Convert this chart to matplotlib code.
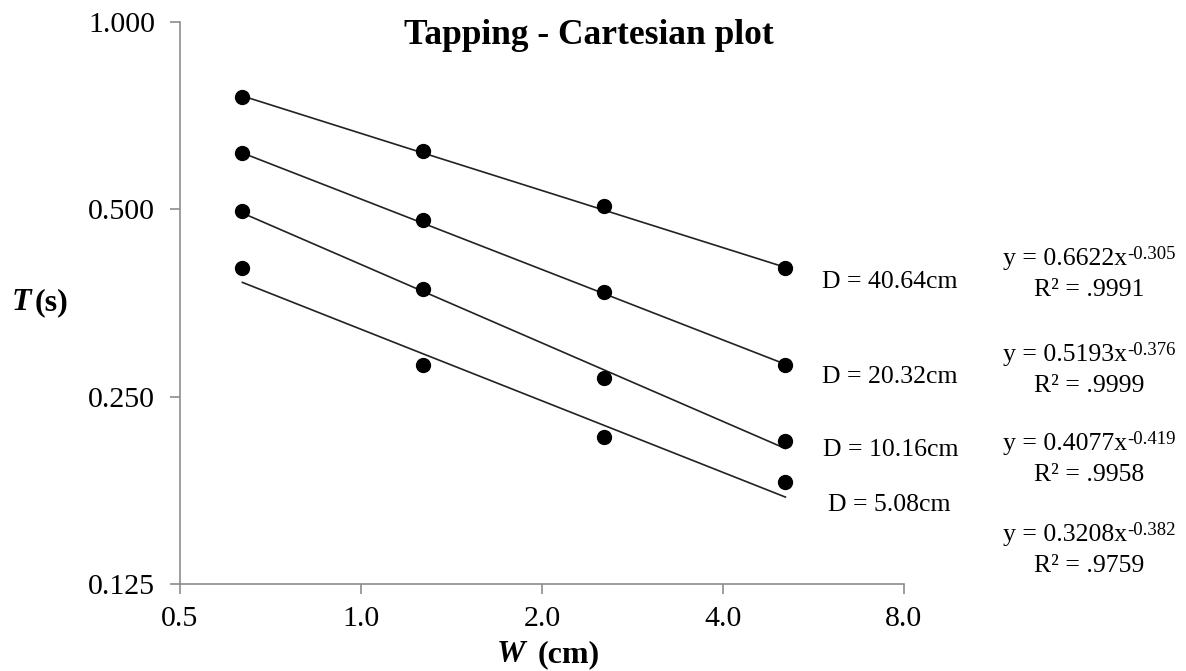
import numpy as np
import matplotlib
matplotlib.use('Agg')
import matplotlib.pyplot as plt

#%% 데이터
W = [0.635, 1.27, 2.54, 5.08]  # target width (cm)
D_labels = ['D = 40.64cm', 'D = 20.32cm', 'D = 10.16cm', 'D = 5.08cm']
T_40 = [0.757, 0.620, 0.506, 0.402]
T_20 = [0.615, 0.480, 0.368, 0.281]
T_10 = [0.497, 0.372, 0.268, 0.212]
T_05 = [0.402, 0.281, 0.215, 0.182]
T_all = [T_40, T_20, T_10, T_05]

# power trendline y = a x^b
coef_a = [0.6622, 0.5193, 0.4077, 0.3208]
coef_b = [-0.305, -0.376, -0.419, -0.382]
r2_text = ['.9991', '.9999', '.9958', '.9759']

x_ticks = [0.5, 1.0, 2.0, 4.0, 8.0]
x_ticklabels = ['0.5', '1.0', '2.0', '4.0', '8.0']
y_ticks = [0.125, 0.25, 0.5, 1.0]
y_ticklabels = ['0.125', '0.250', '0.500', '1.000']

#%% 그래프
plt.rcParams['font.family'] = ['Liberation Serif', 'DejaVu Serif']

W_px, H_px = 1186, 671
fig = plt.figure(figsize=(W_px / 100, H_px / 100), dpi=100)
ax = fig.add_axes([180 / W_px, 1 - 584 / H_px, (904 - 180) / W_px, (584 - 22) / H_px])

ax.set_xscale('log', base=2)
ax.set_yscale('log', base=2)
ax.set_xlim(0.5, 8.0)
ax.set_ylim(0.125, 1.0)

for T, a, b in zip(T_all, coef_a, coef_b):
    xs = np.array([W[0], W[-1]])
    ax.plot(xs, a * xs ** b, color='#222222', lw=1.2, zorder=2)
    ax.plot(W, T, 'o', color='k', ms=10, zorder=3)

ax.set_xticks(x_ticks)
ax.set_xticklabels(x_ticklabels)
ax.set_yticks(y_ticks)
ax.set_yticklabels(y_ticklabels)
ax.minorticks_off()

for s in ['top', 'right']:
    ax.spines[s].set_visible(False)
for s in ['left', 'bottom']:
    ax.spines[s].set_color('#8c8c8c')
    ax.spines[s].set_linewidth(1.2)
ax.tick_params(axis='both', direction='out', length=7, width=1.2, color='#8c8c8c',
               labelsize=21.5, labelcolor='k')
ax.tick_params(axis='y', pad=11)
ax.tick_params(axis='x', pad=9)


def ftext(x, y, s, **kw):
    fig.text(x / W_px, 1 - y / H_px, s, **kw)


ftext(589, 35, 'Tapping - Cartesian plot', fontsize=25.5, fontweight='bold', ha='center', va='center')

# 축 제목
ftext(12, 303, 'T', fontsize=23, fontweight='bold', fontstyle='italic', ha='left', va='center')
ftext(35, 303, '(s)', fontsize=23, fontweight='bold', ha='left', va='center')
ftext(497, 655, 'W', fontsize=23, fontweight='bold', fontstyle='italic', ha='left', va='center')
ftext(538, 655, '(cm)', fontsize=23, fontweight='bold', ha='left', va='center')

# 거리 라벨
d_pos = [(890, 282), (890, 377), (891, 450), (889, 505)]
for (px, py), lab in zip(d_pos, D_labels):
    ftext(px, py, lab, fontsize=18.5, ha='center', va='center')

# 회귀식 (baseline 기준)
eq_base = [265, 361, 450, 541]
for py, a, b, r2 in zip(eq_base, coef_a, coef_b, r2_text):
    ftext(1127, py, 'y = %.4fx' % a, fontsize=18.5, ha='right', va='baseline')
    ftext(1127, py - 6, '%.3f' % b, fontsize=13.5, ha='left', va='baseline')
    ftext(1089, py + 31, 'R\u00b2 = ' + r2, fontsize=18.5, ha='center', va='baseline')

fig.savefig('out.png', dpi=100)
